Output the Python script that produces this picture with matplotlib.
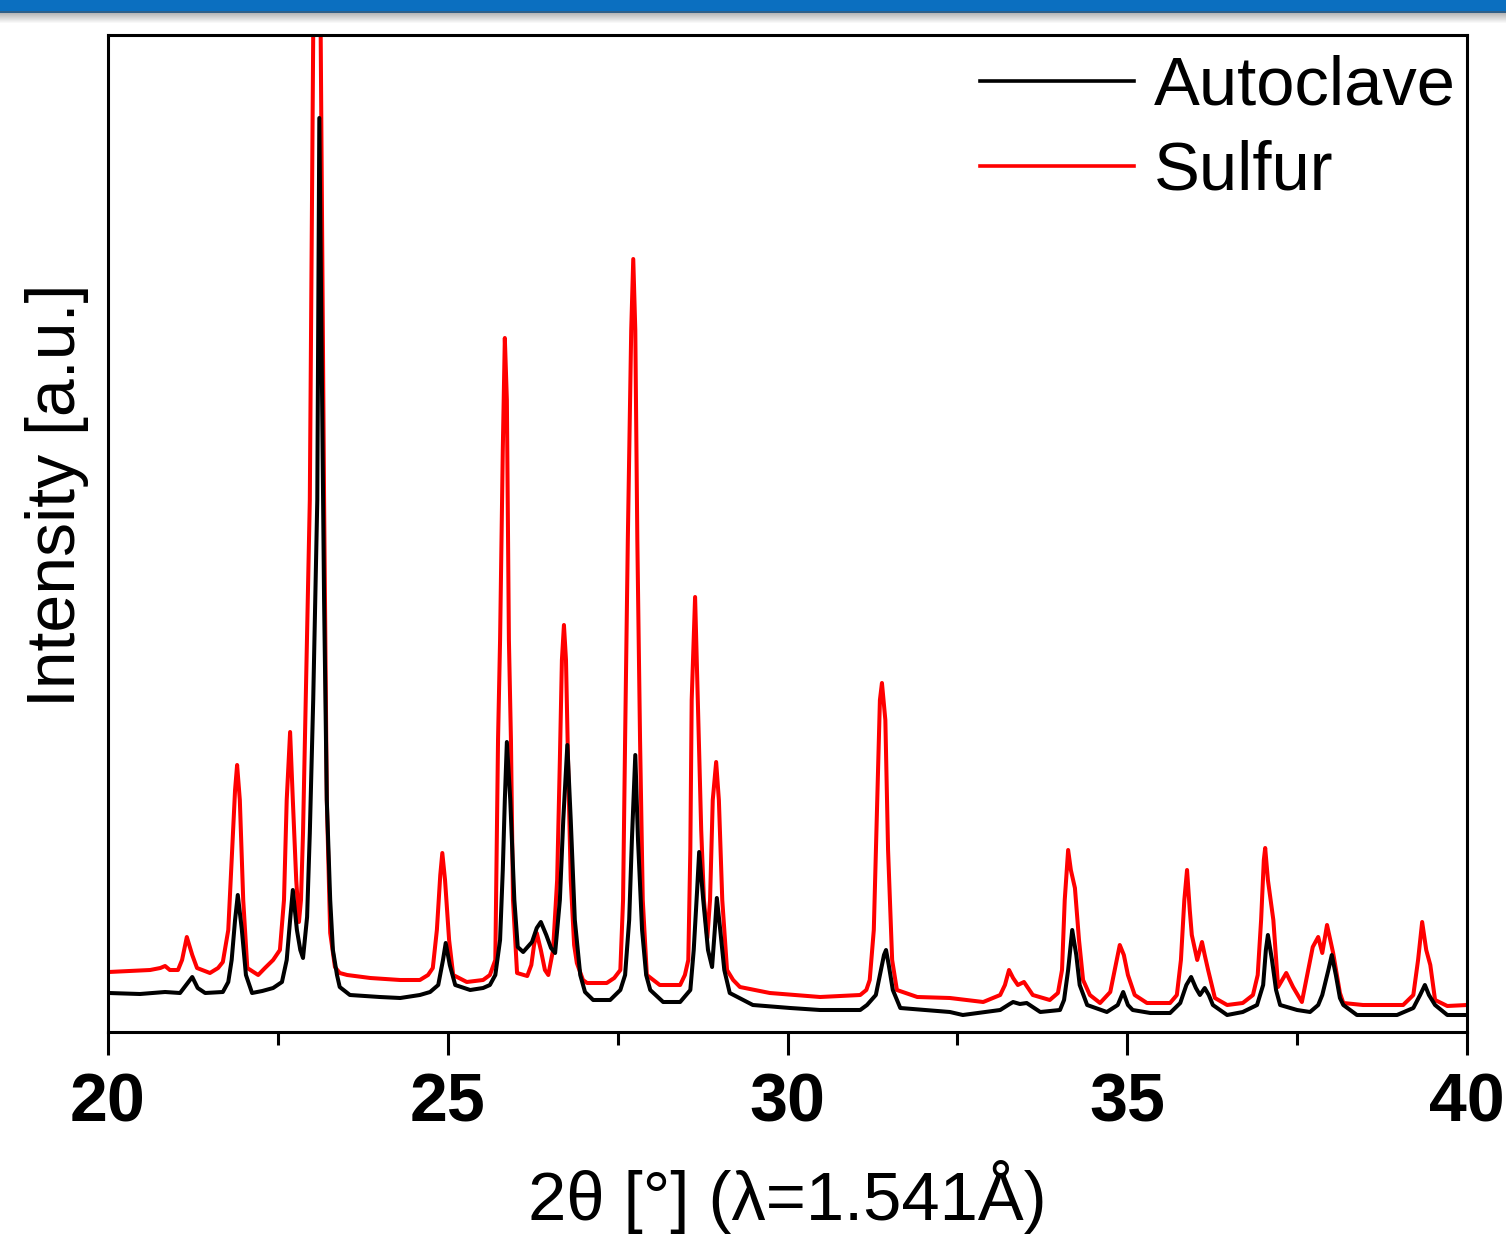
import matplotlib
matplotlib.use("Agg")
import matplotlib.pyplot as plt
from matplotlib.patches import Rectangle
from matplotlib.ticker import MultipleLocator

# ---- data, 2theta [deg] and intensity [a.u.] ----
autoclave_2theta = [
    20.01, 20.47, 20.84, 21.06, 21.15, 21.24, 21.32, 21.43, 21.69, 21.77, 21.82, 21.87, 21.91, 21.97,
    22.03, 22.12, 22.27, 22.43, 22.56, 22.63, 22.68, 22.72, 22.78, 22.83, 22.87, 22.93, 22.97, 23.02,
    23.08, 23.11, 23.15, 23.18, 23.22, 23.27, 23.31, 23.37, 23.41, 23.56, 24.00, 24.30, 24.59, 24.74,
    24.86, 24.93, 24.97, 25.03, 25.11, 25.33, 25.52, 25.62, 25.70, 25.77, 25.81, 25.84, 25.87, 25.92,
    25.98, 26.03, 26.11, 26.24, 26.31, 26.37, 26.45, 26.52, 26.58, 26.65, 26.70, 26.76, 26.81, 26.87,
    26.95, 27.02, 27.14, 27.39, 27.54, 27.61, 27.67, 27.71, 27.76, 27.80, 27.86, 27.92, 27.98, 28.17,
    28.42, 28.57, 28.62, 28.67, 28.70, 28.76, 28.83, 28.89, 28.93, 28.96, 29.01, 29.07, 29.15, 29.49,
    30.04, 30.48, 31.07, 31.17, 31.30, 31.36, 31.42, 31.45, 31.49, 31.55, 31.66, 32.39, 32.58, 33.13,
    33.27, 33.32, 33.42, 33.52, 33.72, 34.01, 34.07, 34.13, 34.19, 34.25, 34.30, 34.41, 34.70, 34.86,
    34.94, 35.01, 35.08, 35.34, 35.63, 35.78, 35.87, 35.94, 36.01, 36.07, 36.14, 36.20, 36.26, 36.47,
    36.70, 36.91, 37.00, 37.04, 37.07, 37.13, 37.19, 37.25, 37.50, 37.69, 37.81, 37.87, 37.96, 38.01,
    38.07, 38.13, 38.18, 38.38, 38.97, 39.21, 39.31, 39.38, 39.44, 39.53, 39.71, 40.00,
]
autoclave_intensity = [
    39, 38, 40, 39, 47, 55, 44, 39, 40, 50, 72, 112, 137, 102,
    57, 39, 41, 44, 50, 72, 112, 142, 102, 82, 74, 115, 199, 332,
    532, 914, 632, 432, 232, 132, 82, 57, 45, 37, 35, 34, 37, 40,
    47, 72, 89, 67, 47, 42, 44, 47, 57, 92, 162, 232, 290, 232,
    132, 85, 80, 90, 104, 110, 97, 84, 79, 132, 212, 287, 212, 112,
    57, 40, 32, 32, 42, 57, 112, 192, 277, 192, 102, 57, 42, 30,
    30, 42, 82, 142, 180, 132, 82, 65, 102, 134, 102, 62, 39, 27,
    24, 22, 22, 27, 37, 57, 77, 82, 67, 42, 24, 20, 17, 22,
    28, 30, 28, 29, 20, 22, 32, 62, 102, 77, 47, 27, 20, 27,
    40, 27, 22, 19, 19, 29, 47, 55, 44, 37, 44, 37, 27, 17,
    20, 27, 47, 82, 97, 72, 42, 27, 22, 20, 27, 37, 62, 77,
    57, 34, 27, 17, 17, 24, 37, 47, 37, 27, 17, 17,
]

sulfur_2theta = [
    20.01, 20.32, 20.62, 20.77, 20.84, 20.91, 21.03, 21.09, 21.16, 21.24, 21.31, 21.50, 21.62, 21.69,
    21.77, 21.82, 21.87, 21.90, 21.94, 21.99, 22.05, 22.21, 22.31, 22.43, 22.53, 22.59, 22.63, 22.68,
    22.72, 22.77, 22.81, 22.84, 22.87, 22.93, 22.97, 23.02, 23.08, 23.13, 23.18, 23.22, 23.27, 23.34,
    23.41, 23.52, 23.86, 24.30, 24.59, 24.71, 24.78, 24.84, 24.89, 24.92, 24.96, 25.02, 25.08, 25.28,
    25.52, 25.62, 25.70, 25.74, 25.77, 25.81, 25.84, 25.87, 25.90, 25.93, 25.96, 26.02, 26.17, 26.23,
    26.27, 26.31, 26.37, 26.43, 26.48, 26.55, 26.61, 26.65, 26.68, 26.71, 26.74, 26.77, 26.81, 26.86,
    26.90, 26.99, 27.05, 27.34, 27.45, 27.54, 27.58, 27.61, 27.65, 27.70, 27.73, 27.76, 27.79, 27.83,
    27.87, 27.93, 28.12, 28.42, 28.49, 28.54, 28.57, 28.59, 28.64, 28.68, 28.73, 28.77, 28.82, 28.86,
    28.90, 28.95, 28.99, 29.04, 29.11, 29.20, 29.30, 29.74, 30.48, 31.07, 31.16, 31.21, 31.27, 31.32,
    31.36, 31.39, 31.44, 31.48, 31.54, 31.61, 31.91, 32.39, 32.88, 33.13, 33.20, 33.26, 33.32, 33.39,
    33.48, 33.54, 33.61, 33.86, 33.98, 34.04, 34.08, 34.13, 34.17, 34.23, 34.29, 34.35, 34.45, 34.60,
    34.75, 34.83, 34.89, 34.95, 35.01, 35.11, 35.29, 35.63, 35.73, 35.79, 35.84, 35.88, 35.92, 35.95,
    36.03, 36.10, 36.14, 36.19, 36.29, 36.47, 36.70, 36.85, 36.92, 36.97, 37.01, 37.03, 37.07, 37.15,
    37.22, 37.34, 37.44, 37.57, 37.73, 37.81, 37.87, 37.94, 38.03, 38.13, 38.18, 38.47, 39.06, 39.21,
    39.28, 39.34, 39.40, 39.46, 39.53, 39.71, 40.00,
]
sulfur_intensity = [
    60, 61, 62, 64, 66, 62, 62, 72, 95, 77, 64, 59, 64, 70,
    102, 172, 242, 267, 232, 132, 64, 57, 64, 72, 82, 132, 232, 300,
    232, 152, 110, 132, 199, 399, 532, 997, 1332, 997, 532, 232, 99, 65,
    59, 57, 54, 52, 52, 57, 64, 102, 157, 179, 152, 92, 57, 50,
    52, 57, 72, 292, 392, 582, 694, 632, 392, 292, 132, 59, 56, 67,
    87, 99, 82, 62, 57, 82, 152, 272, 372, 407, 372, 272, 152, 87,
    69, 52, 49, 49, 54, 62, 132, 292, 492, 702, 773, 702, 492, 292,
    132, 57, 47, 47, 57, 72, 182, 332, 435, 332, 202, 132, 94, 132,
    232, 270, 232, 132, 62, 52, 45, 39, 35, 37, 42, 52, 102, 232,
    332, 349, 312, 182, 72, 42, 35, 34, 30, 37, 47, 62, 54, 47,
    50, 44, 37, 32, 39, 62, 132, 182, 162, 144, 92, 52, 37, 29,
    40, 67, 87, 77, 57, 37, 29, 29, 37, 72, 132, 162, 122, 97,
    72, 90, 77, 62, 34, 27, 29, 37, 57, 112, 172, 184, 152, 112,
    45, 59, 45, 30, 85, 95, 79, 107, 79, 39, 29, 27, 27, 37,
    72, 110, 82, 67, 32, 26, 27,
]

series_labels = ["Autoclave", "Sulfur"]
series_colors = ["#000000", "#ff0000"]
x_ticks = [20, 25, 30, 35, 40]

# ---- figure ----
W, H = 1506, 1242
fig = plt.figure(figsize=(W / 100, H / 100), dpi=100)
fig.patch.set_facecolor("white")

# header band at the top of the slide
fig.add_artist(Rectangle((0, 1 - 11 / H), 1, 11 / H, transform=fig.transFigure,
                         facecolor="#0b6fc0", edgecolor="none", zorder=0))
fig.add_artist(Rectangle((0, 1 - 13 / H), 1, 2 / H, transform=fig.transFigure,
                         facecolor="#2f5f88", edgecolor="none", zorder=0))
for i in range(10):
    g = 0.72 + 0.028 * i
    fig.add_artist(Rectangle((0, 1 - (14 + i) / H), 1, 1 / H, transform=fig.transFigure,
                             facecolor=(g, g, g), edgecolor="none", zorder=0))

left, right, bottom, top = 108 / W, 1467 / W, 1 - 1032 / H, 1 - 35 / H
ax = fig.add_axes([left, bottom, right - left, top - bottom])

ax.plot(autoclave_2theta, autoclave_intensity, color=series_colors[0], lw=2.9,
        label=series_labels[0], solid_joinstyle="round", zorder=3)
ax.plot(sulfur_2theta, sulfur_intensity, color=series_colors[1], lw=2.9,
        label=series_labels[1], solid_joinstyle="round", zorder=2)

ax.set_xlim(20, 40)
ax.set_ylim(0, 997)
ax.set_xticks(x_ticks)
ax.xaxis.set_minor_locator(MultipleLocator(2.5))
ax.set_yticks([])

for s in ax.spines.values():
    s.set_linewidth(2.2)

ax.tick_params(axis="x", which="major", direction="out", length=16.5, width=2.2,
               pad=12, top=False)
ax.tick_params(axis="x", which="minor", direction="out", length=9.5, width=2.2, top=False)
for lab in ax.get_xticklabels():
    lab.set_fontfamily("Liberation Sans")
    lab.set_fontweight("bold")
    lab.set_fontsize(49)

ax.set_xlabel("2θ [°] (λ=1.541Å)", fontsize=49.5, family="Liberation Sans", va="center")
ax.xaxis.set_label_coords(0.5, (1032 - 1197) / 997)
ax.set_ylabel("Intensity [a.u.]", fontsize=49, family="Liberation Sans", va="center")
ax.yaxis.set_label_coords((57 - 108) / 1359, (1032 - 495) / 997)

leg = ax.legend(loc="upper right", bbox_to_anchor=(1.0068, 1.001), frameon=False,
                prop={"family": "Liberation Sans", "size": 49.5},
                handlelength=2.25, handletextpad=0.28, labelspacing=0.31,
                borderaxespad=0.0, borderpad=0.3)
for line in leg.get_lines():
    line.set_linewidth(2.6)

fig.savefig("out.png", dpi=100, facecolor="white")
